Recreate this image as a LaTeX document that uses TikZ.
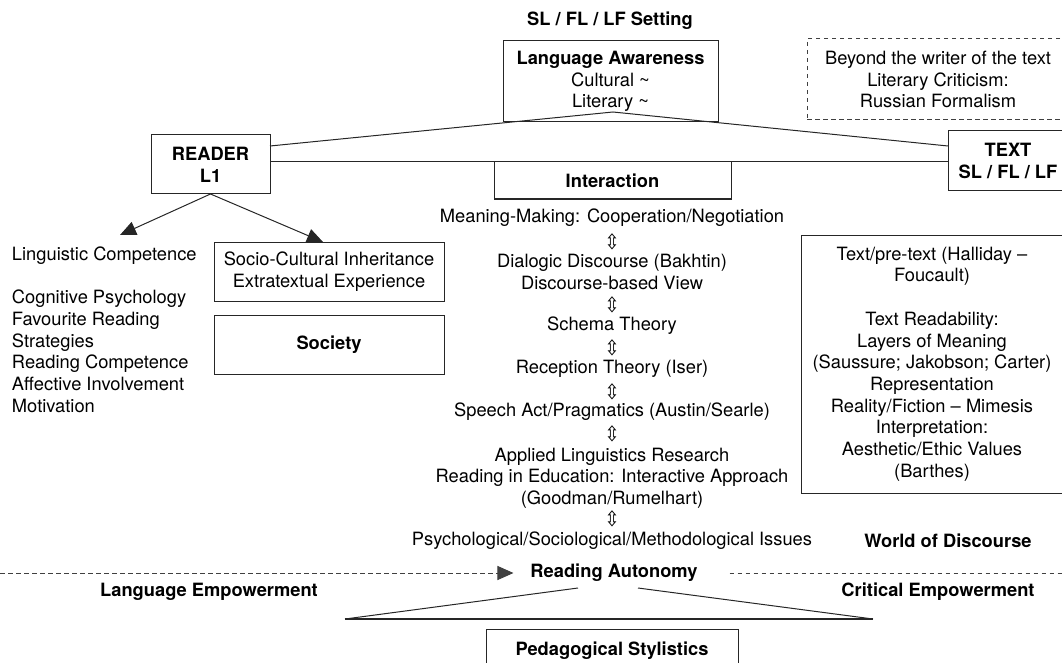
\documentclass[tikz,border=0pt]{standalone}
\usepackage{fontspec}
\setmainfont{TeX Gyre Heros}
\newfontfamily\symfont{DejaVu Sans}
\usetikzlibrary{arrows.meta}
\newcommand{\updownglyph}{\smash{\raisebox{-0.34em}{\scalebox{0.85}[1]{⇳}}}}
\begin{document}
\begin{tikzpicture}[x=1pt,y=-1pt,
  every node/.style={inner sep=0pt, outer sep=0pt, align=center, font=\fontsize{18.3}{21.7}\selectfont},
  box/.style={draw=black!85, line width=1pt},
  boldtxt/.style={font=\fontsize{18.3}{21.7}\selectfont\bfseries},
  dashbox/.style={draw=black!75, line width=1pt, dash pattern=on 4.5pt off 3.5pt},
  conn/.style={draw=black!85, line width=1pt},
  dashconn/.style={draw=black!75, line width=1pt, dash pattern=on 4.5pt off 3.5pt},
  arrowtip/.style={-{Triangle[length=16pt,width=14pt]}},
  updown/.style={font=\fontsize{21}{21}\symfont},
]
\useasboundingbox (0,0) rectangle (1062,663);
\begin{scope}
\clip (0,0) rectangle (1062,663);

% top
\node[boldtxt] (setting) at (610,21) {SL / FL / LF Setting};
\node[box, minimum width=215pt, minimum height=81pt] (la) at (610.5,81.5)
  {\textbf{Language Awareness}\\Cultural \textasciitilde\\Literary \textasciitilde};
\node[dashbox, minimum width=262pt, minimum height=81pt] (beyond) at (938,79.5)
  {Beyond the writer of the text\\Literary Criticism:\\Russian Formalism};
\node[box, boldtxt, minimum width=119pt, minimum height=59pt] (reader) at (210.5,164.5) {READER\\L1};
\node[box, boldtxt, minimum width=120pt, minimum height=60pt] (textbox) at (1008,161) {TEXT\\SL / FL / LF};
\node[box, boldtxt, minimum width=237pt, minimum height=37pt] (inter) at (612.5,180.5) {Interaction};

\coordinate (apex) at (613,112);
\draw[conn] ([yshift=-11pt]reader.north east) -- (apex) -- ([yshift=-15pt]textbox.north west);
\draw[conn] (reader.east |- inter.north) -- (textbox.west |- inter.north);

% left side
\node[box, minimum width=230pt, minimum height=59pt] (socio) at (329,271.5)
  {Socio-Cultural Inheritance\\Extratextual Experience};
\node[box, boldtxt, minimum width=230pt, minimum height=59pt] (society) at (329,344.5) {Society};
\node[align=left, anchor=west] (left) at (12,329.5)
  {Linguistic Competence\\[21.7pt]Cognitive Psychology\\Favourite Reading\\Strategies\\Reading Competence\\Affective Involvement\\Motivation};
\coordinate (lctip) at (120,235);
\draw[conn, arrowtip] (reader.south) -- (lctip);
\draw[conn, arrowtip] (reader.south) -- ([xshift=-6pt]socio.north);

% centre column
\node (c1) at (612,218) {Meaning-Making: Cooperation/Negotiation};
\node[updown] (a1) at (612,242) {\updownglyph};
\node (c2) at (612,272) {Dialogic Discourse (Bakhtin)\\Discourse-based View};
\node[updown] (a2) at (612,305) {\updownglyph};
\node (c3) at (612,326) {Schema Theory};
\node[updown] (a3) at (612,348) {\updownglyph};
\node (c4) at (612,369) {Reception Theory (Iser)};
\node[updown] (a4) at (612,392) {\updownglyph};
\node (c5) at (612,412) {Speech Act/Pragmatics (Austin/Searle)};
\node[updown] (a5) at (612,434) {\updownglyph};
\node (c6) at (612,478) {Applied Linguistics Research\\Reading in Education: Interactive Approach\\(Goodman/Rumelhart)};
\node[updown] (a6) at (612,519) {\updownglyph};
\node (c7) at (612,541) {Psychological/Sociological/Methodological Issues};
\node[boldtxt] (world) at (948,541) {World of Discourse};

% right box
\node[box, minimum width=262pt, minimum height=258pt] (tbox) at (932,364)
  {Text/pre-text (Halliday –\\Foucault)\\[21.7pt]Text Readability:\\Layers of Meaning\\(Saussure; Jakobson; Carter)\\Representation\\Reality/Fiction – Mimesis\\Interpretation:\\Aesthetic/Ethic Values\\(Barthes)};

% bottom
\node[boldtxt] (ra) at (614,573) {Reading Autonomy};
\coordinate (dl) at (0,573);
\coordinate (dr) at (1062,573);
\draw[dashconn, arrowtip] (dl) -- ([xshift=-17pt]ra.west);
\draw[dashconn] ([xshift=32pt]ra.east) -- (dr);
\node[boldtxt] (lemp) at (209,592) {Language Empowerment};
\node[boldtxt] (cemp) at (938,592) {Critical Empowerment};
\coordinate (bl) at (345,619);
\coordinate (br) at (873,619);
\coordinate (tl) at (578,588);
\coordinate (tr) at (638,588);
\draw[conn] (bl) -- (tl);
\draw[conn] (tr) -- (br);
\draw[conn, line width=1.8pt] (bl) -- (br);
\node[box, boldtxt, minimum width=252pt, minimum height=43pt] (ped) at (612,650.5) {Pedagogical Stylistics};
\end{scope}
\end{tikzpicture}
\end{document}
